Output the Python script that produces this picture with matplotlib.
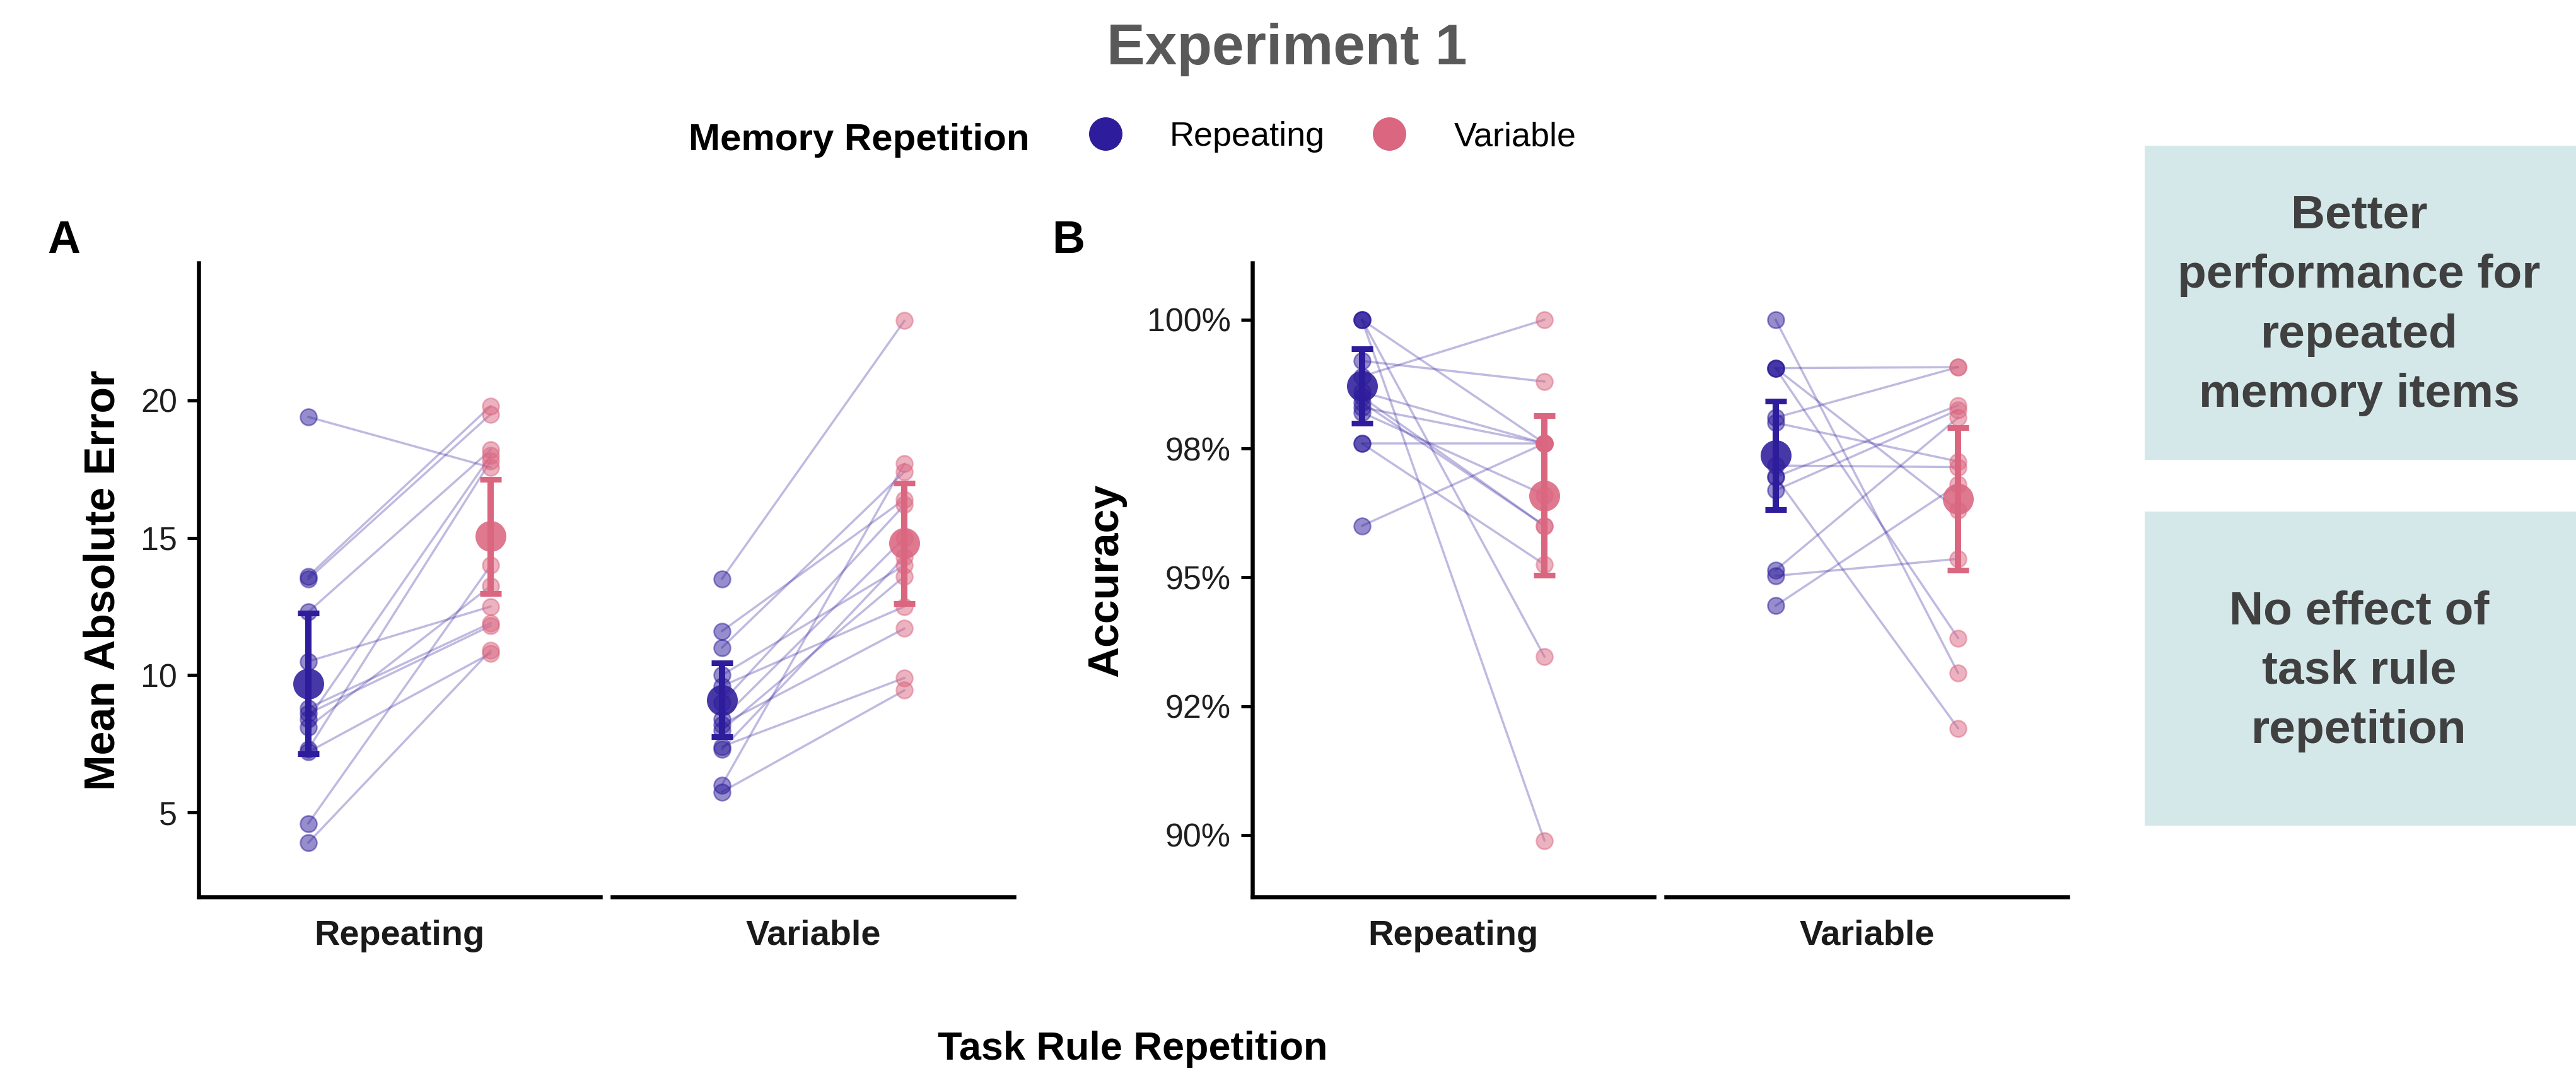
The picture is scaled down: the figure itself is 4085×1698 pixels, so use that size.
import matplotlib
matplotlib.use('Agg')
import matplotlib.pyplot as plt
from matplotlib.lines import Line2D
from matplotlib.patches import Rectangle
import numpy as np

plt.rcParams['font.family'] = ['Liberation Sans', 'DejaVu Sans']

# ---------------- data ----------------
task_levels = ['Repeating', 'Variable']          # facets (Task Rule Repetition)
memory_levels = ['Repeating', 'Variable']        # colour (Memory Repetition)
colors = {'Repeating': '#2D1C9B', 'Variable': '#DA6680'}

# Panel A: Mean Absolute Error, per participant (paired across memory levels)
mae_taskrep_memrep = [19.4, 13.6, 13.5, 12.3, 10.5, 8.8, 8.6, 8.4, 8.1, 7.3, 7.2, 4.6, 3.9]
mae_taskrep_memvar = [17.56, 19.8, 19.5, 18.2, 12.5, 11.9, 11.8, 18.0, 13.25, 17.8, 10.8, 14.0, 10.9]
mae_taskvar_memrep = [13.5, 11.6, 11.0, 10.0, 9.6, 9.0, 8.4, 8.2, 8.0, 7.4, 7.3, 6.0, 5.75]
mae_taskvar_memvar = [22.9, 16.4, 17.4, 14.0, 12.5, 16.2, 15.0, 11.7, 13.6, 9.9, 14.3, 17.7, 9.45]
mae_means = {('Repeating', 'Repeating'): 9.7, ('Repeating', 'Variable'): 15.05,
             ('Variable', 'Repeating'): 9.1, ('Variable', 'Variable'): 14.8}
mae_errs = {('Repeating', 'Repeating'): 2.55, ('Repeating', 'Variable'): 2.07,
            ('Variable', 'Repeating'): 1.35, ('Variable', 'Variable'): 2.2}

# Panel B: Accuracy, per participant
acc_taskrep_memrep = [1.000, 1.000, 1.000, 0.992, 0.989, 0.986, 0.985, 0.983, 0.982, 0.976, 0.976, 0.960, 0.984]
acc_taskrep_memvar = [0.976, 0.9346, 0.8989, 0.988, 1.000, 0.976, 0.960, 0.976, 0.966, 0.976, 0.9525, 0.976, 0.960]
acc_taskvar_memrep = [1.000, 0.9906, 0.9906, 0.9906, 0.981, 0.980, 0.9717, 0.9695, 0.9695, 0.9669, 0.9514, 0.9503, 0.9445]
acc_taskvar_memvar = [0.9314, 0.9908, 0.963, 0.9382, 0.9908, 0.9725, 0.9714, 0.9834, 0.9207, 0.9825, 0.981, 0.9536, 0.968]
acc_means = {('Repeating', 'Repeating'): 0.9871, ('Repeating', 'Variable'): 0.9659,
             ('Variable', 'Repeating'): 0.9737, ('Variable', 'Variable'): 0.9652}
acc_errs = {('Repeating', 'Repeating'): 0.0072, ('Repeating', 'Variable'): 0.0155,
            ('Variable', 'Repeating'): 0.0105, ('Variable', 'Variable'): 0.0138}

mae_ticks = [5, 10, 15, 20]
mae_ticklabels = ['5', '10', '15', '20']
acc_ticks = [0.90, 0.925, 0.95, 0.975, 1.00]
acc_ticklabels = ['90%', '92%', '95%', '98%', '100%']

title = 'Experiment 1'
legend_title = 'Memory Repetition'
x_title = 'Task Rule Repetition'
box_texts = ['Better\nperformance for\nrepeated\nmemory items',
             'No effect of\ntask rule\nrepetition']

panels = [
    dict(letter='A', ylabel='Mean Absolute Error', ylim=(1.93, 25.0),
         ticks=mae_ticks, ticklabels=mae_ticklabels,
         data={'Repeating': (mae_taskrep_memrep, mae_taskrep_memvar),
               'Variable': (mae_taskvar_memrep, mae_taskvar_memvar)},
         means=mae_means, errs=mae_errs),
    dict(letter='B', ylabel='Accuracy', ylim=(0.888, 1.011),
         ticks=acc_ticks, ticklabels=acc_ticklabels,
         data={'Repeating': (acc_taskrep_memrep, acc_taskrep_memvar),
               'Variable': (acc_taskvar_memrep, acc_taskvar_memvar)},
         means=acc_means, errs=acc_errs),
]

# ---------------- layout ----------------
W, H = 4085, 1698
DPI = 100
fig = plt.figure(figsize=(W / DPI, H / DPI), dpi=DPI)
fig.patch.set_facecolor('white')

def fx(px):
    return px / W

def fy(py):
    return 1 - py / H

PX = 72 / DPI  # points per pixel
ax_top, ax_bottom = 417, 1422
facet_lefts = [[315, 971], [1986, 2642]]
facet_width = 637
ylabel_x = [182, 1772]
letter_x = [75, 1668]

purple = colors['Repeating']
for p_i, panel in enumerate(panels):
    for f_i, task in enumerate(task_levels):
        left = facet_lefts[p_i][f_i]
        ax = fig.add_axes([fx(left), fy(ax_bottom), facet_width / W, (ax_bottom - ax_top) / H])
        ax.set_xlim(0.4, 2.6)
        ax.set_ylim(*panel['ylim'])
        rep_vals, var_vals = panel['data'][task]
        # subject lines
        for a, b in zip(rep_vals, var_vals):
            ax.plot([1, 2], [a, b], color=purple, alpha=0.3, lw=3.5 * PX, zorder=1,
                    solid_capstyle='round')
        # individual points
        for x, mem, vals in [(1, 'Repeating', rep_vals), (2, 'Variable', var_vals)]:
            ax.scatter(np.full(len(vals), x), vals, s=(26 * PX) ** 2,
                       color=colors[mem], alpha=0.5, linewidths=2.5 * PX, zorder=2)
        # means with error bars
        for x, mem in [(1, 'Repeating'), (2, 'Variable')]:
            m = panel['means'][(task, mem)]
            e = panel['errs'][(task, mem)]
            ax.plot([x], [m], 'o', ms=49 * PX, color=colors[mem], alpha=0.88,
                    mec='none', zorder=3)
            ax.errorbar([x], [m], yerr=[e], fmt='none', ecolor=colors[mem],
                        elinewidth=10 * PX, capsize=17 * PX, capthick=9 * PX, zorder=4)
        # axes styling
        for s in ['top', 'right']:
            ax.spines[s].set_visible(False)
        ax.spines['bottom'].set_linewidth(6.5 * PX)
        ax.spines['left'].set_linewidth(6.5 * PX)
        ax.set_xticks([1.5])
        ax.set_xticklabels([task], fontsize=56 * PX, fontweight='bold', color='#1a1a1a')
        ax.tick_params(axis='x', length=0, pad=36 * PX)
        if f_i == 0:
            ax.set_yticks(panel['ticks'])
            ax.set_yticklabels(panel['ticklabels'], fontsize=52 * PX, color='#1f1f1f')
            ax.tick_params(axis='y', length=18 * PX, width=5 * PX, pad=16 * PX)
        else:
            ax.spines['left'].set_visible(False)
            ax.set_yticks([])
        ax.set_facecolor('none')
    # y label and panel letter
    fig.text(fx(ylabel_x[p_i]), fy((ax_top + ax_bottom) / 2), panel['ylabel'],
             rotation=90, rotation_mode='anchor', ha='center', va='baseline',
             fontsize=68 * PX, fontweight='bold', color='black')
    fig.text(fx(letter_x[p_i]), fy(401), panel['letter'], ha='left', va='baseline',
             fontsize=72 * PX, fontweight='bold', color='black')

# title
fig.text(fx(2041), fy(102), title, ha='center', va='baseline',
         fontsize=91 * PX, fontweight='bold', color='#595959')

# legend
fig.text(fx(1092), fy(238), legend_title, ha='left', va='baseline',
         fontsize=60 * PX, fontweight='bold', color='black')
handles = [Line2D([], [], ls='none', marker='o', ms=53 * PX, color=colors[m], mec='none')
           for m in memory_levels]
fig.legend(handles, memory_levels, loc='center left',
           bbox_to_anchor=(fx(1726), fy(217)), ncol=2, frameon=False,
           fontsize=54 * PX, handlelength=1.0, handletextpad=1.39,
           columnspacing=1.39, borderpad=0, borderaxespad=0)

# x title
fig.text(fx(1796), fy(1680), x_title, ha='center', va='baseline',
         fontsize=63 * PX, fontweight='bold', color='black')

# side boxes
box_rows = [(231, 729), (811, 1309)]
for (top, bot), txt in zip(box_rows, box_texts):
    fig.patches.append(Rectangle((fx(3401), fy(bot)), (W - 3401) / W, (bot - top) / H,
                                 transform=fig.transFigure, facecolor='#D5E8E9',
                                 edgecolor='none', zorder=0))
    fig.text(fx(3741), fy((top + bot) / 2 + 4), txt, ha='center', va='center',
             multialignment='center', fontsize=75 * PX, fontweight='bold',
             color='#404040', linespacing=1.47)

fig.savefig('out.png', dpi=DPI, facecolor='white')
